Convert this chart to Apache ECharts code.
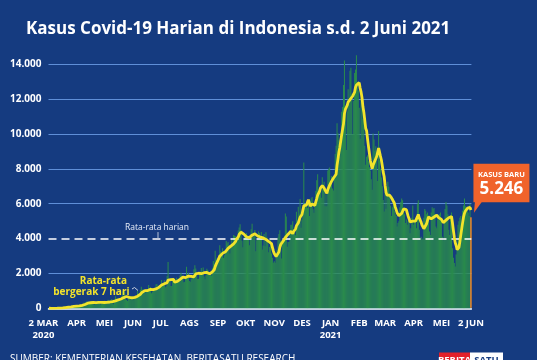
<!DOCTYPE html>
<html><head><meta charset="utf-8">
<script src="https://cdn.jsdelivr.net/npm/echarts@6/dist/echarts.min.js"></script>
<style>html,body{margin:0;padding:0;background:#153b80;}#c{width:537px;height:360px;}</style>
</head><body><div id="c"></div>
<script>
// ---- data (daily new cases, from 2 March 2020) ----
const mar20 = [2,0,0,2,0,0,2,13,8,7,0,35,27,21,17,38,55,82,60,81,64,65,107,105,103,153,109,130,129,114];
const apr20 = [149,113,196,106,181,218,247,218,337,219,330,399,316,282,297,380,407,325,327,185,375,283,357,436,396,275,214,415,260,347];
const may20 = [433,292,349,271,484,367,338,336,533,387,233,484,689,568,490,529,489,496,486,693,973,634,949,526,479,415,686,687,678,557,700];
const jun20 = [467,609,684,703,703,993,672,847,1043,1241,979,1111,1014,857,1017,1106,1031,1331,1041,1226,862,954,1051,1113,1178,1385,1385,1082,1198,1293];
const jul20 = [1385,1624,1301,1447,1607,1209,1268,1853,2657,1611,1671,1281,1282,1591,1522,1574,1462,1752,1639,1693,1655,1882,2040,1761,1868,1492,1525,1748,2381,1904,2040];
const aug20 = [1560,1519,1679,1815,1815,2236,2473,2277,1893,1687,1693,1942,2098,2307,2081,2345,1821,1673,1902,2266,2197,2037,1953,2038,1877,2306,2719,2549,3308,2858,2743];
const sep20 = [2775,3075,3622,3269,3128,3444,2880,3046,3307,3861,3737,3806,3636,3141,3507,3963,3635,4212,4168,4131,3989,4071,4465,4634,4823,4494,3874,3509,4002,4284];
const oct20 = [4174,4317,4007,3992,3622,4056,4538,4850,4094,4294,4497,3267,3906,4127,4411,4301,4105,4373,3373,3602,4267,3565,4369,4070,3732,3222,3520,3904,3143,2897,2617];
const nov20 = [2696,2618,2973,3356,4065,4262,4483,3880,2853,3779,3770,4173,5444,5272,3535,3807,3807,4265,4798,4792,4998,4360,4442,4192,5534,4917,5828,5418,6267,4617];
const dec20 = [5092,5533,8369,5803,6027,6089,5754,6058,5292,6033,6310,6388,5681,5489,6120,6725,7354,7689,6689,6848,6848,6347,7514,6809,7259,5854,6528,5854,7903,8002,8074];
const jan21 = [7036,7585,6877,6753,7445,8854,9321,10617,10046,9640,8692,10047,11278,11557,12818,14224,11287,9086,11295,12568,11703,13632,13802,12287,9994,11898,13500,13695,14518,13000,12500];
const feb21 = [11500,9726,11984,11434,10868,10768,9320,8242,8700,8776,8435,8100,7900,7400,6800,10029,9687,9039,9300,8800,7300,10180,8493,8000,7500,7000,6208,5560];
const mar21 = [6680,5712,6808,7264,6971,6412,5890,5300,5800,6321,5600,5400,5294,4700,4900,5000,5800,6100,6300,6200,5600,5400,4900,5100,4800,5000,5200,4300,4600,5200,5900];
const apr21 = [4800,5000,5200,4600,6000,6200,4500,4000,4100,4000,3960,5200,5700,5600,5400,5500,5320,4400,4200,5500,5800,5700,5750,5400,4700,4600,5100,5200,5400,5500];
const may21 = [5200,4100,3900,4900,5700,6100,5900,5400,4500,4200,5300,5500,3448,2900,2600,2400,3080,3606,4800,5000,5200,5300,4900,5600,5900,6300,5862,5700,5848,5500,5300];
const jun21 = [6000,5246];

const tickDates = ['2020-03-02','2020-04-01','2020-05-01','2020-06-01','2020-07-01','2020-08-01','2020-09-01','2020-10-01','2020-11-01','2020-12-01','2021-01-01','2021-02-01','2021-03-01','2021-04-01','2021-05-01','2021-06-02'];
const tickLabels = ['2 MAR\n2020','APR','MEI','JUN','JUL','AGS','SEP','OKT','NOV','DES','JAN\n2021','FEB','MAR','APR','MEI','2 JUN'];
const yTicks = [0,2000,4000,6000,8000,10000,12000,14000];
const dailyAverage = 4000;

const titleText = 'Kasus Covid-19 Harian di Indonesia s.d. 2 Juni 2021';
const sourceText = 'SUMBER: KEMENTERIAN KESEHATAN, BERITASATU RESEARCH';
const avgText = 'Rata-rata harian';
const maText1 = 'Rata-rata';
const maText2 = 'bergerak 7 hari';
const calloutTitle = 'KASUS BARU';

// ---- build ----
const daily = [].concat(mar20,apr20,may20,jun20,jul20,aug20,sep20,oct20,nov20,dec20,jan21,feb21,mar21,apr21,may21,jun21);
const dates = daily.map((_, i) => new Date(Date.UTC(2020, 2, 2 + i)).toISOString().slice(0, 10));
const movingAvg = daily.map((_, i) => {
  const s = daily.slice(Math.max(0, i - 6), i + 1);
  return Math.round(s.reduce((a, b) => a + b, 0) / s.length);
});
const labelMap = {};
tickDates.forEach((d, k) => labelMap[d] = tickLabels[k]);
const tickIdx = new Set(tickDates.map(d => dates.indexOf(d)));
const fmt = v => String(v).replace(/\B(?=(\d{3})+(?!\d))/g, '.');
const last = daily.length - 1;

const BG = '#153b80', GRID = '#5f8fd8', GREEN = '#2b8c4c', YELLOW = '#f2e32b', ORANGE = '#f0632b';
const FONT = '"Open Sans", Lato, sans-serif';

const chart = echarts.init(document.getElementById('c'), null, {renderer: 'canvas'});
chart.setOption({
  animation: false,
  backgroundColor: BG,
  textStyle: {fontFamily: FONT},
  title: {
    text: titleText, left: 21, top: 15.5,
    textStyle: {color: '#fff', fontSize: 17, fontWeight: 'bold', fontFamily: FONT}
  },
  grid: {left: 48.5, right: 65.6, top: 64.3, bottom: 51.7},
  xAxis: {
    type: 'category', data: dates, boundaryGap: true,
    axisLine: {lineStyle: {color: '#fff', width: 1.5}},
    axisTick: {alignWithLabel: true, interval: i => tickIdx.has(i), length: 5, lineStyle: {color: '#fff', width: 1}},
    axisLabel: {interval: i => tickIdx.has(i) && i !== 0, showMaxLabel: true,
      formatter: (v, i) => i === 0 ? '' : (labelMap[v] || ''),
      color: '#fff', fontWeight: 'bold', fontSize: 9.5, lineHeight: 12, margin: 9, fontFamily: FONT},
    splitLine: {show: false}
  },
  yAxis: {
    type: 'value', min: 0, max: yTicks[yTicks.length - 1], interval: 2000,
    axisLine: {show: false}, axisTick: {show: false},
    axisLabel: {color: '#fff', fontWeight: 'bold', fontSize: 10, margin: 7, formatter: v => fmt(v), fontFamily: FONT},
    splitLine: {lineStyle: {color: yTicks.map(v => v === dailyAverage ? BG : GRID), width: 1.2}}
  },
  series: [
    {
      type: 'bar', name: 'Kasus harian', clip: false,
      data: daily.map((v, i) => i === last
        ? {value: v, itemStyle: {color: '#f0892a', borderColor: '#f0892a', borderWidth: 1}}
        : v),
      itemStyle: {color: GREEN},
      barCategoryGap: '18%',
      markLine: {
        silent: true, symbol: ['none', 'none'], label: {show: false},
        lineStyle: {color: '#fff', type: [8, 5], width: 1.6},
        data: [{yAxis: dailyAverage}]
      }
    },
    {
      type: 'line', name: 'Rata-rata bergerak 7 hari', data: movingAvg, showSymbol: false,
      lineStyle: {color: YELLOW, width: 2.8}, z: 5
    }
  ]
});

function place() {
  const pt = chart.convertToPixel({xAxisIndex: 0, yAxisIndex: 0}, [dates[last], daily[last]]);
  const pAvg = chart.convertToPixel({xAxisIndex: 0, yAxisIndex: 0}, [dates[0], dailyAverage]);
  const p0 = chart.convertToPixel({xAxisIndex: 0, yAxisIndex: 0}, [dates[0], 0]);
  const px = pt[0], py = pt[1];
  const bx = px + 2.5, by = py - 53;
  const ay = pAvg[1];
  chart.setOption({
    graphic: [
      {type: 'text', x: p0[0] - 5.5, y: p0[1] + 8.5, style: {text: labelMap[dates[0]], fill: '#fff', font: 'bold 9.5px ' + FONT, lineHeight: 12, textAlign: 'center', textVerticalAlign: 'top'}, z: 11},
      {type: 'rect', shape: {x: bx, y: by, width: 56, height: 38.5}, style: {fill: ORANGE}, z: 10},
      {type: 'polygon', shape: {points: [[px + 4, by + 38], [px + 11, by + 38], [px + 3, py - 4]]}, style: {fill: ORANGE}, z: 10},
      {type: 'text', x: bx + 28, y: by + 10.5, style: {text: calloutTitle, fill: '#fff', font: 'bold 7.5px ' + FONT, textAlign: 'center', textVerticalAlign: 'middle'}, z: 11},
      {type: 'text', x: bx + 28, y: by + 25.5, style: {text: fmt(daily[last]), fill: '#fff', font: 'bold 17px ' + FONT, textAlign: 'center', textVerticalAlign: 'middle'}, z: 11},
      // average label
      {type: 'text', x: 157, y: ay - 11, style: {text: avgText, fill: '#e8eef8', font: '8.5px ' + FONT, textAlign: 'center', textVerticalAlign: 'middle'}, z: 11},
      {type: 'line', shape: {x1: 158, y1: ay - 6.5, x2: 158, y2: ay}, style: {stroke: '#b8c4d8', lineWidth: 1}, z: 11},
      // moving average label
      {type: 'text', x: 127, y: 281.5, style: {text: maText1, fill: YELLOW, font: 'bold 10px ' + FONT, textAlign: 'right', textVerticalAlign: 'middle'}, z: 11},
      {type: 'text', x: 129.5, y: 292, style: {text: maText2, fill: YELLOW, font: 'bold 10px ' + FONT, textAlign: 'right', textVerticalAlign: 'middle'}, z: 11},
      {type: 'polyline', shape: {points: [[132, 289], [134.5, 287.5], [138, 290.5]]}, style: {stroke: '#c8d0e0', lineWidth: 1, fill: null}, z: 11},
      // source + logo
      {type: 'text', x: 10, y: 354, style: {text: sourceText, fill: '#fff', font: '10px ' + FONT, textAlign: 'left', textVerticalAlign: 'top'}, z: 11},
      {type: 'rect', shape: {x: 439, y: 352.5, width: 31, height: 12}, style: {fill: '#e3202a'}, z: 11},
      {type: 'rect', shape: {x: 470, y: 352.5, width: 33, height: 12}, style: {fill: '#ffffff'}, z: 11},
      {type: 'text', x: 454.5, y: 355, style: {text: 'BERITA', fill: '#fff', font: 'bold 9.5px ' + FONT, textAlign: 'center', textVerticalAlign: 'top'}, z: 12},
      {type: 'text', x: 486.5, y: 355, style: {text: 'SATU', fill: '#153b80', font: 'bold 9.5px ' + FONT, textAlign: 'center', textVerticalAlign: 'top'}, z: 12}
    ]
  });
}
place();
</script>
</body></html>
